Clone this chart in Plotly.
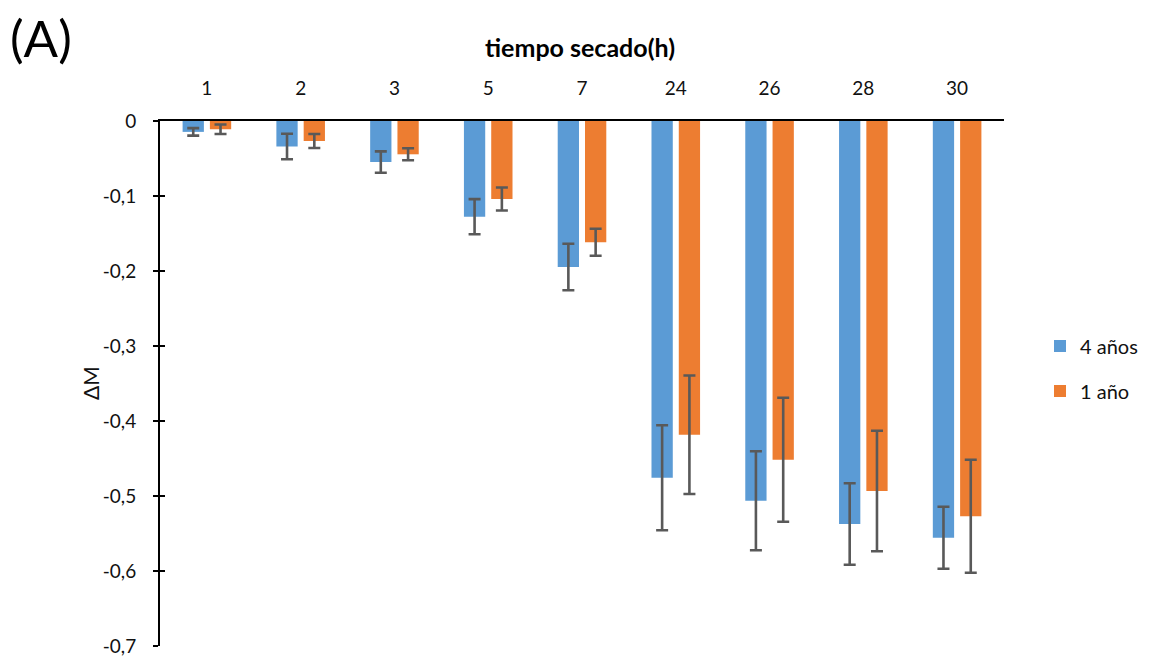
import plotly.graph_objects as go

# Drying time categories (hours)
horas = ["1", "2", "3", "5", "7", "24", "26", "28", "30"]

# Mass change (ΔM) for each wood age, with standard deviations
dm_4_anos = [-0.0145, -0.034, -0.0547, -0.1276, -0.1947, -0.4757, -0.5063, -0.5373, -0.5556]
sd_4_anos = [0.005, 0.017, 0.0142, 0.0235, 0.031, 0.070, 0.066, 0.0544, 0.0413]

dm_1_ano = [-0.011, -0.0267, -0.0444, -0.104, -0.1617, -0.4183, -0.4516, -0.4933, -0.527]
sd_1_ano = [0.0064, 0.0093, 0.008, 0.0153, 0.018, 0.079, 0.0827, 0.0804, 0.0753]

# Y axis ticks with comma decimals
y_ticks = [0, -0.1, -0.2, -0.3, -0.4, -0.5, -0.6, -0.7]
y_tick_text = ["0", "-0,1", "-0,2", "-0,3", "-0,4", "-0,5", "-0,6", "-0,7"]

FONT = "Lato"
TXT = "#111111"
ERR = "#595959"

W, H = 1153, 656
ML, MR, MT, MB = 160, 149, 121, 10
PW, PH = W - ML - MR, H - MT - MB


def px_x(x):
    return (x - ML) / PW


def px_y(y):
    return 1 - (y - MT) / PH


fig = go.Figure()
fig.add_trace(go.Bar(
    x=horas, y=dm_4_anos, name="4 años",
    marker=dict(color="#5B9BD5", line=dict(width=0)),
    error_y=dict(type="data", array=sd_4_anos, color=ERR, thickness=2.6, width=6),
    legendgroup="a",
))
fig.add_trace(go.Bar(
    x=horas, y=dm_1_ano, name="1 año",
    marker=dict(color="#ED7D31", line=dict(width=0)),
    error_y=dict(type="data", array=sd_1_ano, color=ERR, thickness=2.6, width=6),
    legendgroup="b",
))
# invisible copy on the secondary axis so its inner ticks get drawn
fig.add_trace(go.Scatter(x=horas, y=dm_4_anos, yaxis="y2", mode="markers",
                         marker=dict(opacity=0), showlegend=False, hoverinfo="skip"))

fig.update_layout(
    width=W, height=H,
    margin=dict(l=ML, r=MR, t=MT, b=MB),
    paper_bgcolor="white", plot_bgcolor="white",
    barmode="group", bargap=0.418, bargroupgap=0.22,
    font=dict(family=FONT, size=19, color=TXT),
    showlegend=True,
    legend=dict(
        x=px_x(1040), y=px_y(368.5), xanchor="left", yanchor="middle",
        font=dict(family=FONT, size=20, color=TXT),
        tracegroupgap=16, traceorder="grouped",
        bgcolor="rgba(0,0,0,0)",
    ),
    xaxis=dict(
        type="category", side="top", automargin=False,
        showline=True, linecolor="black", linewidth=2,
        ticks="", showgrid=False, zeroline=False,
        tickfont=dict(family=FONT, size=19, color=TXT),
        ticklabelstandoff=16,
    ),
    yaxis=dict(
        range=[-0.7, 0], automargin=False,
        tickvals=y_ticks, ticktext=y_tick_text,
        showline=True, linecolor="black", linewidth=2,
        ticks="outside", ticklen=5, tickwidth=2, tickcolor="black",
        showgrid=False, zeroline=False,
        tickfont=dict(family=FONT, size=19, color=TXT),
        ticklabelstandoff=13, ticklabeloverflow="allow",
    ),
    yaxis2=dict(
        overlaying="y", anchor="x", side="left", range=[-0.7, 0],
        automargin=False,
        tickvals=y_ticks, showticklabels=False,
        ticks="inside", ticklen=5, tickwidth=2, tickcolor="black",
        showline=False, showgrid=False, zeroline=False,
    ),
    annotations=[
        dict(text="<b>tiempo secado(h)</b>", xref="paper", yref="paper",
             x=px_x(580), y=px_y(47), xanchor="center", yanchor="middle",
             showarrow=False, font=dict(family=FONT, size=25, color="black")),
        dict(text="(A)", xref="paper", yref="paper",
             x=px_x(8), y=px_y(37), xanchor="left", yanchor="middle",
             showarrow=False, font=dict(family=FONT, size=51, color="black")),
        dict(text="ΔM", xref="paper", yref="paper", textangle=-90,
             x=px_x(90), y=px_y(383), xanchor="center", yanchor="middle",
             showarrow=False, font=dict(family=FONT, size=21, color=TXT)),
    ],
)

fig.write_html("out.html")
